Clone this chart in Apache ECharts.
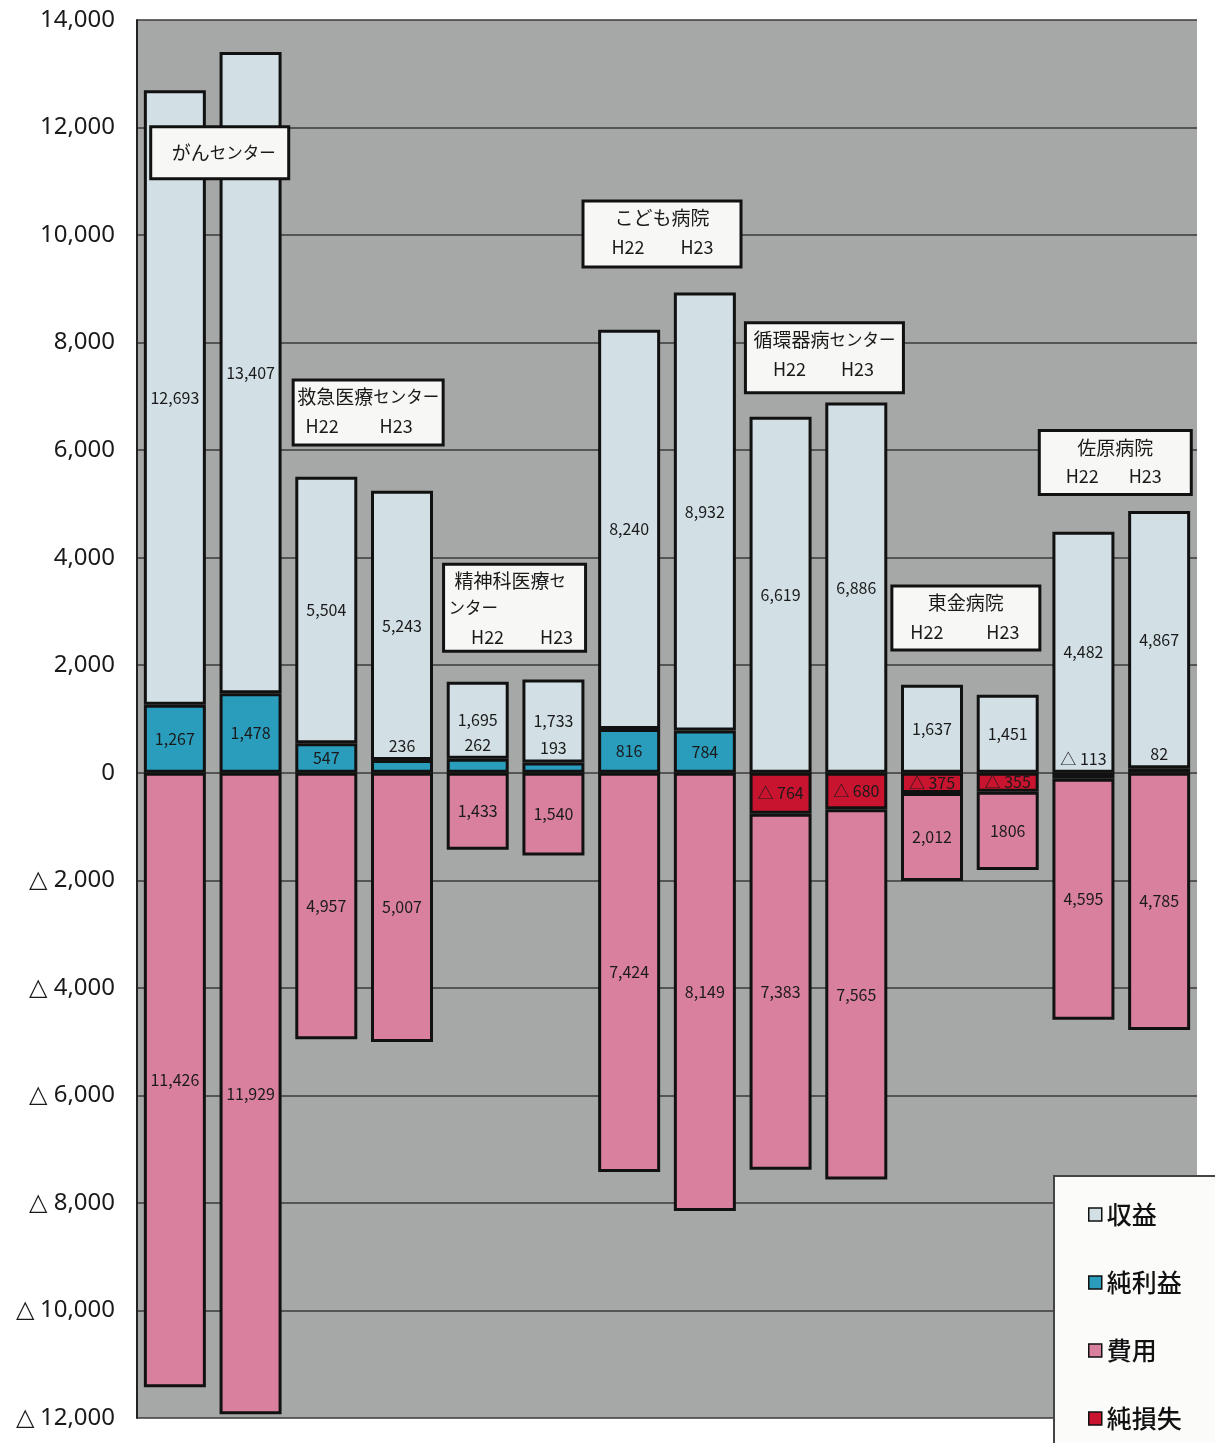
<!DOCTYPE html>
<html><head><meta charset="utf-8">
<script src="https://cdn.jsdelivr.net/npm/echarts@6/dist/echarts.min.js"></script>
<style>html,body{margin:0;padding:0;background:#fff}#c{width:1215px;height:1443px}</style>
</head><body><div id="c"></div>
<script>
// ---- data ----
const hospitals = ['がんセンター', '救急医療センター', '精神科医療センター', 'こども病院', '循環器病センター', '東金病院', '佐原病院'];
const years = ['H22', 'H23'];
const categories = hospitals.flatMap(h => years.map(y => h + ' ' + y));
const revenue   = [12693, 13407, 5504, 5243, 1695, 1733, 8240, 8932, 6619, 6886, 1637, 1451, 4482, 4867];
const expense   = [11426, 11929, 4957, 5007, 1433, 1540, 7424, 8149, 7383, 7565, 2012, 1806, 4595, 4785];
const netResult = [1267, 1478, 547, 236, 262, 193, 816, 784, -764, -680, -375, -355, -113, 82];
const legendNames = ['収益', '純利益', '費用', '純損失'];
const yMin = -12000, yMax = 14000, yStep = 2000;

// ---- derived stacks ----
const fmt = v => Math.round(v).toLocaleString('en-US');
const expenseText = expense.map(fmt);
expenseText[11] = '1806'; // printed without separator in the source

const profitSeg = netResult.map(n => n > 0 ? {value: n, label: {position: n < 400 ? 'top' : 'inside', distance: 6}} : '-');
const revenueSeg = revenue.map((r, i) => r - Math.max(netResult[i], 0));
const lossSeg = netResult.map(n => n < 0 ? {value: n, label: {position: n > -200 ? 'top' : 'inside', distance: 6}} : '-');
const costSeg = expense.map((e, i) => -(e - Math.max(-netResult[i], 0)));

const FONT = '"Noto Sans CJK JP", "Noto Sans", sans-serif';
const labelBase = {show: true, fontSize: 16, fontFamily: FONT, color: '#1a1a1a'};
const border = {borderColor: '#111', borderWidth: 3};

const chart = echarts.init(document.getElementById('c'), null, {renderer: 'canvas'});
chart.setOption({
  animation: false,
  backgroundColor: '#ffffff',
  grid: {left: 137, right: 18, top: 20, bottom: 25, show: true, backgroundColor: '#a6a8a7', borderWidth: 0},
  xAxis: {type: 'category', data: categories, axisLine: {show: false}, axisTick: {show: false}, axisLabel: {show: false}, splitLine: {show: false}},
  yAxis: {
    type: 'value', min: yMin, max: yMax, interval: yStep,
    axisLine: {show: true, lineStyle: {color: '#222', width: 2}},
    axisTick: {show: false},
    splitLine: {show: true, lineStyle: {color: '#3a3a3a', width: 1.5}},
    axisLabel: {fontSize: 24, fontFamily: '"Noto Sans", sans-serif', color: '#1a1a1a', margin: 22,
      formatter: v => v < 0 ? '△ ' + fmt(-v) : fmt(v)}
  },
  legend: {
    data: legendNames, orient: 'vertical', left: 1083, top: 1197, z: 110,
    icon: 'rect', itemWidth: 13, itemHeight: 13, itemGap: 43,
    itemStyle: {borderWidth: 1.5, borderColor: '#111'},
    textStyle: {fontSize: 25, lineHeight: 25, fontFamily: FONT, fontWeight: 500, color: '#111'}
  },
  series: [
    {name: '純利益', type: 'bar', stack: 'a', barWidth: 62, data: profitSeg,
     itemStyle: Object.assign({color: '#2a9dbd'}, border),
     label: Object.assign({}, labelBase, {formatter: p => fmt(netResult[p.dataIndex])})},
    {name: '収益', type: 'bar', stack: 'a', barWidth: 62, data: revenueSeg,
     itemStyle: Object.assign({color: '#d2e0e6'}, border),
     label: Object.assign({}, labelBase, {position: 'inside', formatter: p => fmt(revenue[p.dataIndex])})},
    {name: '純損失', type: 'bar', stack: 'a', barWidth: 62, data: lossSeg,
     itemStyle: Object.assign({color: '#c8142f'}, border),
     label: Object.assign({}, labelBase, {formatter: p => '△ ' + fmt(-netResult[p.dataIndex])})},
    {name: '費用', type: 'bar', stack: 'a', barWidth: 62, data: costSeg,
     itemStyle: Object.assign({color: '#d9809f'}, border),
     label: Object.assign({}, labelBase, {position: 'inside', formatter: p => expenseText[p.dataIndex]})}
  ]
});

// ---- annotation boxes (hospital name + year tags) ----
const boxes = [
  {g: 0, lines: [hospitals[0]], yv: 11530, dx: 7, w: 138, h: 52, center: true},
  {g: 1, lines: [hospitals[1]], yv: 6700, dx: 4, w: 150, h: 65, hx: [-46, 28]},
  {g: 2, lines: ['精神科医療セ', 'ンター'], yv: 3070, dx: -1, w: 142, h: 87, hx: [-27, 42], left: [11, 5]},
  {g: 3, lines: [hospitals[3]], yv: 10020, dx: -5, w: 158, h: 66, hx: [-34, 35]},
  {g: 4, lines: [hospitals[4]], yv: 7720, dx: 6, w: 158, h: 70, hx: [-35, 33]},
  {g: 5, lines: [hospitals[5]], yv: 2880, dx: -4, w: 148, h: 64, hx: [-39, 37]},
  {g: 6, lines: [hospitals[6]], yv: 5770, dx: -6, w: 152, h: 64, hx: [-33, 30]}
];
// render trailing katakana smaller (narrow glyphs as in the source)
const richText = t => t.replace(/([\u30A0-\u30FF]+)$/, '{k|$1}').replace(/^([^{]+)/, '{m|$1}');
const rich = {m: {fontSize: 19, fontFamily: FONT, fill: '#1a1a1a'}, k: {fontSize: 16.5, fontFamily: FONT, fill: '#1a1a1a'}};
const ZB = 60;
const graphics = [];
boxes.forEach(b => {
  const p1 = chart.convertToPixel({xAxisIndex: 0, yAxisIndex: 0}, [b.g * 2, b.yv]);
  const p2 = chart.convertToPixel({xAxisIndex: 0, yAxisIndex: 0}, [b.g * 2 + 1, b.yv]);
  const cx = (p1[0] + p2[0]) / 2 + b.dx, cy = p1[1];
  const top = -b.h / 2;
  const children = [{type: 'rect', z: ZB, shape: {x: -b.w / 2, y: top, width: b.w, height: b.h},
    style: {fill: '#f7f7f5', stroke: '#111', lineWidth: 3}}];
  const ts = {fontSize: 19, fontFamily: FONT, fill: '#1a1a1a', verticalAlign: 'middle', rich};
  if (b.center) {
    children.push({type: 'text', z: ZB + 1, style: Object.assign({}, ts, {text: richText(b.lines[0]), x: 4, y: 0, align: 'center'})});
  } else {
    const step = 27;
    b.lines.forEach((t, k) => {
      const y = top + 17 + k * step;
      const x = b.left ? -b.w / 2 + b.left[k] : 0;
      children.push({type: 'text', z: ZB + 1, style: Object.assign({}, ts, {text: richText(t), x, y, align: b.left ? 'left' : 'center'})});
    });
    const yy = top + 17 + b.lines.length * step + 2;
    years.forEach((yr, k) => children.push({type: 'text', z: ZB + 1,
      style: Object.assign({}, ts, {text: yr, fontSize: 18, x: b.hx[k], y: yy, align: 'center'})}));
  }
  graphics.push({type: 'group', x: cx, y: cy, z: ZB, children});
});
graphics.push({type: 'rect', left: 1053, top: 1175, z: 100,
  shape: {width: 175, height: 280}, style: {fill: '#fbfbfa', stroke: '#444', lineWidth: 2}});
chart.setOption({graphic: graphics});
</script></body></html>
